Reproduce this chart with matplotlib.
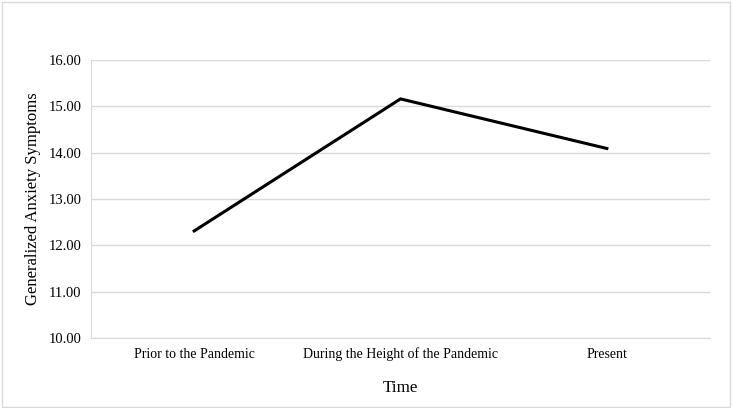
import matplotlib
matplotlib.use("Agg")
from matplotlib import pyplot as plt
from matplotlib.patches import Rectangle

categories = ["Prior to the Pandemic", "During the Height of the Pandemic", "Present"]
anxiety = [12.31, 15.16, 14.09]
y_ticks = [10, 11, 12, 13, 14, 15, 16]

plt.rcParams["font.family"] = ["Liberation Serif", "DejaVu Serif"]

fig = plt.figure(figsize=(7.32, 4.08), dpi=100)
ax = fig.add_axes([0.1243, 0.1716, 0.8457, 0.6814])

# outer border of the chart area
fig.patches.append(Rectangle((0.003, 0.003), 0.994, 0.992, transform=fig.transFigure,
                             fill=False, edgecolor="#d9d9d9", linewidth=1))

x = list(range(len(categories)))
ax.plot(x, anxiety, color="black", linewidth=2.2, solid_joinstyle="miter", zorder=3)

ax.set_xlim(-0.5, len(categories) - 0.5)
ax.set_ylim(10, 16)
ax.set_yticks(y_ticks)
ax.set_yticklabels([f"{v:.2f}" for v in y_ticks], fontsize=10.5)
ax.set_xticks(x)
ax.set_xticklabels(categories, fontsize=10)
ax.tick_params(axis="both", length=0, pad=7)

ax.grid(axis="y", color="#d9d9d9", linewidth=1)
ax.set_axisbelow(True)
for side in ["top", "right"]:
    ax.spines[side].set_visible(False)
ax.spines["left"].set_color("#d9d9d9")
ax.spines["bottom"].set_color("#d9d9d9")

ax.set_xlabel("Time", fontsize=12.3, labelpad=13)
ax.set_ylabel("Generalized Anxiety Symptoms", fontsize=12, labelpad=5)

fig.savefig("out.png", dpi=100)
